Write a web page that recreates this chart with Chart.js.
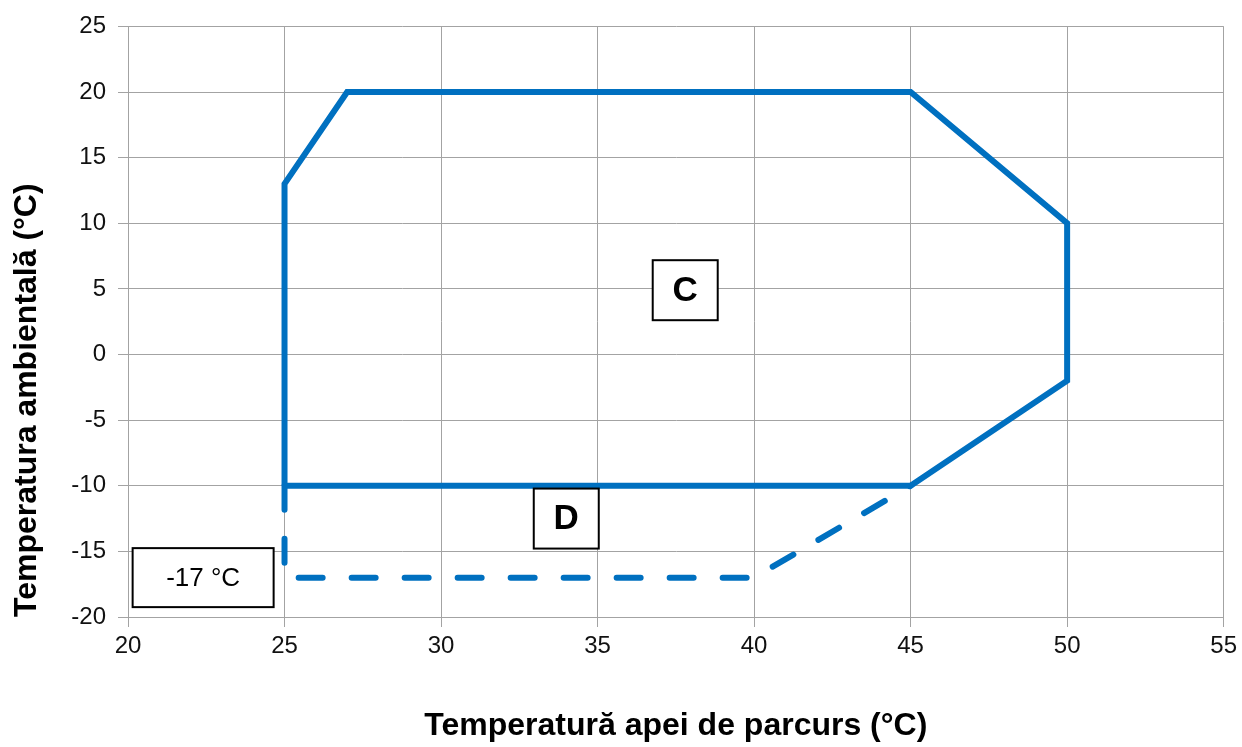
<!DOCTYPE html>
<html>
<head>
<meta charset="utf-8">
<script src="https://cdn.jsdelivr.net/npm/chart.js@4.4.1/dist/chart.umd.min.js"></script>
<style>
  html, body { margin: 0; padding: 0; background: #fff; }
  #wrap { width: 1242px; height: 747px; }
</style>
</head>
<body>
<div id="wrap"><canvas id="chart" width="1242" height="747"></canvas></div>
<script>
// Operating envelope (solid) - water temp on x, ambient temp on y
const envelopeX = [25, 25, 27, 45, 50, 50, 45, 25];
const envelopeY = [-10, 13, 20, 20, 10, -2, -10, -10];

// Extended zone (dashed)
const extendedX = [25, 25, 40, 45];
const extendedY = [-10, -17, -17, -10];

// Axis ranges / ticks
const xTicks = [20, 25, 30, 35, 40, 45, 50, 55];
const yTicks = [-20, -15, -10, -5, 0, 5, 10, 15, 20, 25];

// Text labels in boxes
const labelTexts = ["C", "D", "-17 °C"];
const labelX = [37.8, 34.0, 22.4];
const labelY = [4.9, -12.5, -17];

const BLUE = "#0070c0";
const GRID = "#a3a3a3";

function toPoints(xs, ys) {
  return xs.map((x, i) => ({ x: x, y: ys[i] }));
}

// draws the boxed labels (C, D, -17 °C) at data positions
const boxLabels = {
  id: "boxLabels",
  afterDatasetsDraw(chart, args, opts) {
    const ctx = chart.ctx;
    const xs = chart.scales.x, ys = chart.scales.y;
    ctx.save();
    labelTexts.forEach((txt, i) => {
      const st = opts.styles[i];
      const cx = xs.getPixelForValue(labelX[i]);
      const cy = ys.getPixelForValue(labelY[i]);
      ctx.fillStyle = "#fff";
      ctx.fillRect(cx - st.w / 2, cy - st.h / 2, st.w, st.h);
      ctx.lineWidth = 2;
      ctx.strokeStyle = "#000";
      ctx.strokeRect(cx - st.w / 2, cy - st.h / 2, st.w, st.h);
      ctx.fillStyle = "#000";
      ctx.font = st.font;
      ctx.textAlign = "center";
      ctx.textBaseline = "middle";
      ctx.fillText(txt, cx, cy + 1);
    });
    ctx.restore();
  }
};

const ctx = document.getElementById("chart").getContext("2d");
new Chart(ctx, {
  type: "scatter",
  data: {
    datasets: [
      {
        label: "C",
        data: toPoints(envelopeX, envelopeY),
        showLine: true,
        borderColor: BLUE,
        backgroundColor: BLUE,
        borderWidth: 6,
        borderJoinStyle: "miter",
        pointRadius: 0,
        tension: 0
      },
      {
        label: "D",
        data: toPoints(extendedX, extendedY),
        showLine: true,
        borderColor: BLUE,
        backgroundColor: BLUE,
        borderWidth: 6,
        borderDash: [24, 29],
        borderCapStyle: "round",
        pointRadius: 0,
        tension: 0
      }
    ]
  },
  options: {
    responsive: false,
    animation: false,
    layout: { padding: { top: 26, right: 16, left: 0, bottom: 0 } },
    plugins: {
      legend: { display: false },
      tooltip: { enabled: false },
      boxLabels: {
        styles: [
          { w: 65, h: 60, font: "bold 35px 'Liberation Sans', Arial, sans-serif" },
          { w: 65, h: 60, font: "bold 35px 'Liberation Sans', Arial, sans-serif" },
          { w: 141, h: 59, font: "26px 'Liberation Sans', Arial, sans-serif" }
        ]
      }
    },
    scales: {
      x: {
        type: "linear",
        min: xTicks[0],
        max: xTicks[xTicks.length - 1],
        afterBuildTicks: s => { s.ticks = xTicks.map(v => ({ value: v })); },
        afterFit: s => { s.height = 130; },
        grid: { color: GRID, lineWidth: 1, tickLength: 10 },
        border: { color: GRID },
        ticks: {
          color: "#111",
          padding: 5,
          maxRotation: 0,
          font: { family: "'Liberation Sans', Arial, sans-serif", size: 24 }
        },
        title: {
          display: true,
          text: "Temperatură apei de parcurs (°C)",
          color: "#000",
          padding: { top: 0, bottom: 2 },
          font: { family: "'Liberation Sans', Arial, sans-serif", size: 32, weight: "bold" }
        }
      },
      y: {
        type: "linear",
        min: yTicks[0],
        max: yTicks[yTicks.length - 1],
        afterBuildTicks: s => { s.ticks = yTicks.map(v => ({ value: v })); },
        afterFit: s => { s.width = 128; },
        grid: { color: GRID, lineWidth: 1, tickLength: 10 },
        border: { color: GRID },
        ticks: {
          color: "#111",
          padding: 12,
          font: { family: "'Liberation Sans', Arial, sans-serif", size: 24 }
        },
        title: {
          display: true,
          text: "Temperatura ambientală (°C)",
          color: "#000",
          align: "start",
          padding: { top: 8, bottom: 0 },
          font: { family: "'Liberation Sans', Arial, sans-serif", size: 32, weight: "bold" }
        }
      }
    }
  },
  plugins: [boxLabels]
});
</script>
</body>
</html>
